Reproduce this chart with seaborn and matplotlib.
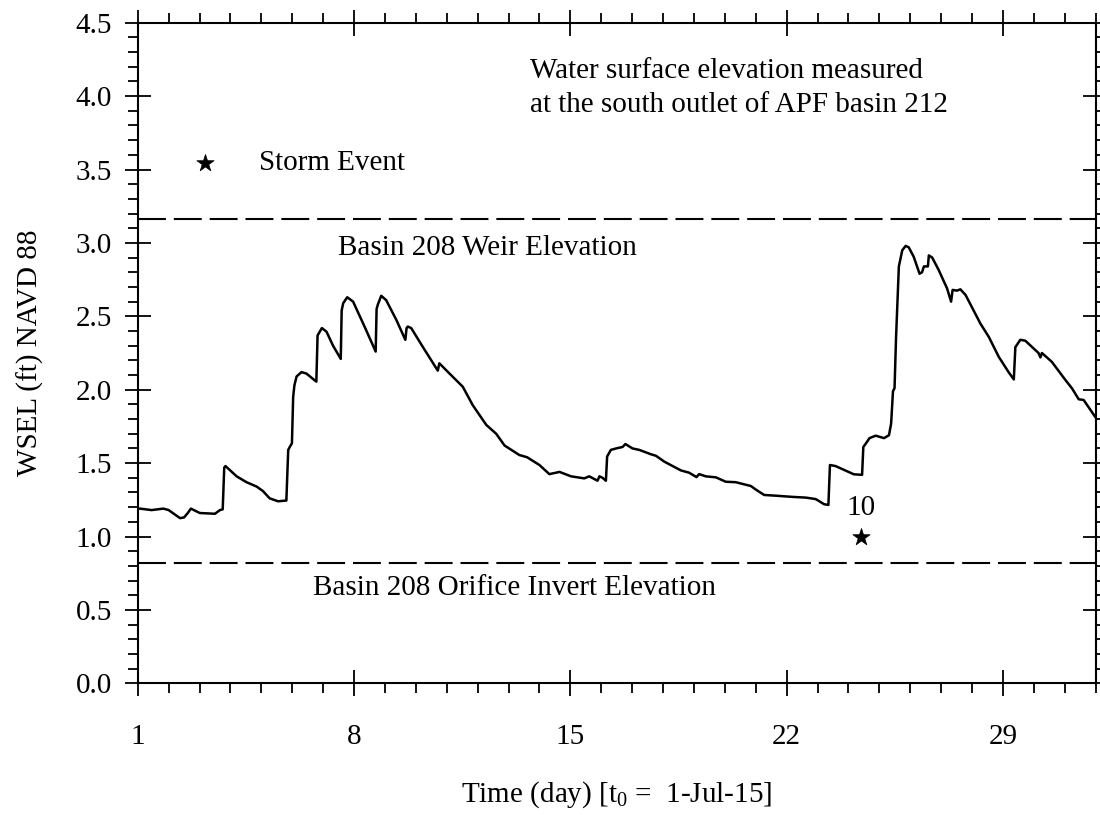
import numpy as np
import pandas as pd
import matplotlib
matplotlib.use("Agg")
import matplotlib.pyplot as plt
import seaborn as sns
from matplotlib.ticker import MultipleLocator, FixedLocator

# ---- data ----
days = [1.00, 1.07, 1.45, 1.83, 2.00, 2.37, 2.50, 2.62, 2.72, 3.01, 3.50, 3.66, 3.75,
        3.80, 3.84, 4.20, 4.52, 4.85, 5.05, 5.27, 5.54, 5.81, 5.87, 5.92, 5.99, 6.03,
        6.07, 6.14, 6.30, 6.46, 6.78, 6.82, 6.96, 7.11, 7.32, 7.57, 7.60, 7.65, 7.78,
        7.97, 8.34, 8.70, 8.73, 8.77, 8.88, 9.04, 9.37, 9.66, 9.70, 9.74, 9.85, 10.23,
        10.71, 10.76, 11.09, 11.52, 11.84, 12.28, 12.60, 12.87, 13.35, 13.60, 14.00,
        14.32, 14.65, 15.02, 15.45, 15.61, 15.88, 15.94, 16.04, 16.15, 16.19, 16.31,
        16.48, 16.69, 16.78, 17.01, 17.23, 17.61, 17.77, 18.04, 18.31, 18.58, 18.84,
        19.08, 19.17, 19.38, 19.71, 20.03, 20.35, 20.84, 21.00, 21.27, 21.65, 22.18,
        22.62, 22.94, 23.21, 23.35, 23.40, 23.58, 24.17, 24.44, 24.48, 24.55, 24.68,
        24.88, 25.15, 25.31, 25.38, 25.44, 25.49, 25.54, 25.63, 25.74, 25.85, 25.95,
        26.11, 26.30, 26.38, 26.44, 26.57, 26.60, 26.71, 26.92, 27.19, 27.32, 27.37,
        27.51, 27.62, 27.79, 28.27, 28.54, 28.86, 29.18, 29.35, 29.40, 29.56, 29.72,
        30.15, 30.21, 30.26, 30.58, 31.02, 31.23, 31.45, 31.61, 32.00]
wsel = [1.19, 1.19, 1.18, 1.19, 1.18, 1.125, 1.13, 1.16, 1.19, 1.16, 1.155, 1.18, 1.185,
        1.47, 1.48, 1.41, 1.37, 1.34, 1.31, 1.26, 1.24, 1.245, 1.59, 1.61, 1.635, 1.95,
        2.03, 2.09, 2.12, 2.11, 2.055, 2.37, 2.42, 2.395, 2.30, 2.21, 2.54, 2.59, 2.63,
        2.60, 2.43, 2.26, 2.55, 2.58, 2.64, 2.61, 2.475, 2.34, 2.42, 2.43, 2.42, 2.29,
        2.13, 2.18, 2.11, 2.02, 1.895, 1.76, 1.70, 1.62, 1.555, 1.54, 1.487,
        1.425, 1.44, 1.41, 1.396, 1.41, 1.38, 1.41, 1.40, 1.38, 1.545, 1.59,
        1.60, 1.61, 1.63, 1.60, 1.59, 1.56, 1.55, 1.51, 1.48, 1.45, 1.435,
        1.405, 1.425, 1.41, 1.403, 1.373, 1.37, 1.344, 1.32, 1.283, 1.278, 1.27,
        1.265, 1.255, 1.22, 1.215, 1.487, 1.48, 1.424, 1.42, 1.61, 1.63, 1.67,
        1.687, 1.67, 1.69, 1.77, 1.99, 2.01, 2.36, 2.84, 2.95, 2.98, 2.97,
        2.906, 2.79, 2.80, 2.84, 2.84, 2.915, 2.90, 2.815, 2.69, 2.60, 2.68,
        2.675, 2.684, 2.645, 2.45, 2.36, 2.225, 2.12, 2.07, 2.29, 2.34, 2.334,
        2.25, 2.22, 2.25, 2.19, 2.066, 2.01, 1.935, 1.93, 1.81]

weir_elev = 3.16
orifice_elev = 0.82
storm_days = [24.42]
storm_wsel = [1.0]
storm_labels = ["10"]
legend_star_day = [3.18]
legend_star_wsel = [3.545]
x_ticks = [1, 8, 15, 22, 29]
x_ticklabels = ["1", "8", "15", "22", "29"]
y_ticks = [0.0, 0.5, 1.0, 1.5, 2.0, 2.5, 3.0, 3.5, 4.0, 4.5]
y_ticklabels = ["0.0", "0.5", "1.0", "1.5", "2.0", "2.5", "3.0", "3.5", "4.0", "4.5"]

# ---- style ----
sns.set_theme(style="ticks")
plt.rcParams['font.family'] = ['Liberation Serif', 'DejaVu Serif']
plt.rcParams['mathtext.fontset'] = 'custom'
plt.rcParams['mathtext.rm'] = 'Liberation Serif'
plt.rcParams['mathtext.it'] = 'Liberation Serif:italic'
plt.rcParams['mathtext.default'] = 'regular'
plt.rcParams['text.color'] = 'black'
plt.rcParams['axes.labelcolor'] = 'black'
plt.rcParams['xtick.color'] = 'black'
plt.rcParams['ytick.color'] = 'black'
plt.rcParams['axes.edgecolor'] = 'black'
FS = 21

fig = plt.figure(figsize=(11, 8.15), dpi=100)
ax = fig.add_axes([0.1252, 0.1616, 0.8709, 0.8105])

df = pd.DataFrame({"day": days, "wsel": wsel})
sns.lineplot(data=df, x="day", y="wsel", ax=ax, color="black", linewidth=1.8,
             estimator=None, sort=False)

ax.axhline(weir_elev, color="black", linewidth=1.5, dashes=(13.4, 3.8))
ax.axhline(orifice_elev, color="black", linewidth=1.5, dashes=(13.4, 3.8))

sns.scatterplot(x=storm_days, y=storm_wsel, ax=ax, marker="*", s=170,
                color="black", edgecolor="black", linewidth=0.5, zorder=5)
sns.scatterplot(x=legend_star_day, y=legend_star_wsel, ax=ax, marker="*", s=170,
                color="black", edgecolor="black", linewidth=0.5, zorder=5)
for d, w, lab in zip(storm_days, storm_wsel, storm_labels):
    ax.text(d, w + 0.195, lab, fontsize=FS, ha="center", va="center", color="black")

ax.text(4.92, 3.545, "Storm Event", fontsize=FS, ha="left", va="center", color="black")
ax.text(13.68, 4.17, "Water surface elevation measured", fontsize=FS, ha="left",
        va="center", color="black")
ax.text(13.68, 3.94, "at the south outlet of APF basin 212", fontsize=FS, ha="left",
        va="center", color="black")
ax.text(7.47, 2.965, "Basin 208 Weir Elevation", fontsize=FS, ha="left", va="center",
        color="black")
ax.text(6.66, 0.65, "Basin 208 Orifice Invert Elevation", fontsize=FS, ha="left",
        va="center", color="black")

ax.set_xlim(1, 32)
ax.set_ylim(0, 4.5)
ax.xaxis.set_major_locator(FixedLocator(x_ticks))
ax.set_xticklabels(x_ticklabels)
ax.xaxis.set_minor_locator(MultipleLocator(1))
ax.yaxis.set_major_locator(FixedLocator(y_ticks))
ax.set_yticklabels(y_ticklabels)
ax.yaxis.set_minor_locator(MultipleLocator(0.1))

for s in ax.spines.values():
    s.set_visible(True)
    s.set_linewidth(1.5)
    s.set_color("black")

ax.tick_params(which="major", direction="inout", length=19, width=1.3,
               top=True, right=True, colors="black", labelsize=FS, labelcolor="black")
ax.tick_params(which="minor", direction="out", length=7.2, width=1.3,
               top=True, right=True, colors="black")
ax.tick_params(axis="x", which="major", pad=20)
ax.tick_params(axis="y", which="major", pad=9)

ax.set_xlabel("Time (day) [t$_0$ =  1-Jul-15]", fontsize=FS, va="center", color="black")
ax.xaxis.set_label_coords(0.5, -0.169)
ax.set_ylabel("WSEL (ft) NAVD 88", fontsize=FS, va="center", color="black")
ax.yaxis.set_label_coords(-0.1124, 0.5)

ax.set_facecolor("white")
fig.patch.set_facecolor("white")
fig.savefig("out.png", dpi=100)
